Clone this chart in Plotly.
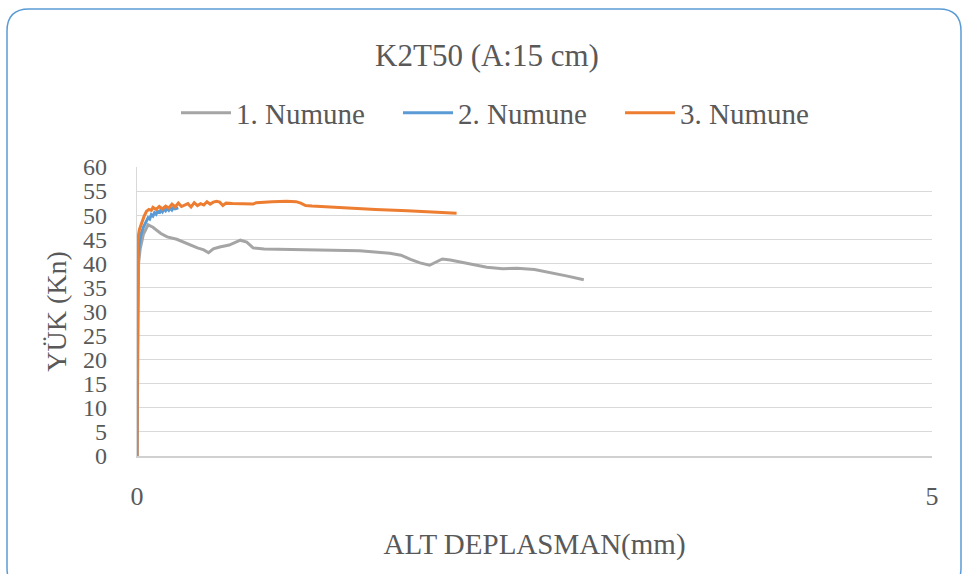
import plotly.graph_objects as go

# ---- data ----
s1_x = [0, 0.003, 0.01, 0.02, 0.04, 0.07, 0.1, 0.15, 0.19, 0.25, 0.32, 0.38, 0.42, 0.45, 0.48, 0.52,
        0.58, 0.62, 0.65, 0.69, 0.71, 0.73, 0.8, 1.0, 1.2, 1.4, 1.59, 1.66, 1.72, 1.78, 1.84, 1.88,
        1.92, 1.97, 2.03, 2.12, 2.2, 2.3, 2.39, 2.5, 2.6, 2.7, 2.81]
s1_y = [0, 20, 40, 43, 46, 48, 47.5, 46.2, 45.5, 45, 44, 43.2, 42.8, 42.2, 43, 43.4,
        43.8, 44.4, 44.8, 44.4, 43.8, 43.2, 43, 42.9, 42.8, 42.6, 42.1, 41.7, 40.8, 40.1, 39.6, 40.2,
        40.9, 40.7, 40.3, 39.7, 39.2, 38.9, 39, 38.7, 38.1, 37.4, 36.6]

s2_x = [0, 0.003, 0.006, 0.015, 0.025, 0.04, 0.05, 0.06, 0.07, 0.08, 0.09, 0.1, 0.11, 0.12, 0.13,
        0.14, 0.15, 0.16, 0.17, 0.18, 0.19, 0.2, 0.21, 0.22, 0.23, 0.24, 0.26]
s2_y = [0, 25, 41, 44, 46, 47.5, 48.3, 48.8, 49.5, 49.2, 50.1, 49.8, 50.5, 50.2, 50.9,
        50.4, 51.1, 50.7, 51.3, 50.9, 51.4, 51.0, 51.5, 51.1, 51.6, 51.3, 51.5]

s3_x = [0, 0.002, 0.005, 0.015, 0.03, 0.045, 0.06, 0.075, 0.09, 0.1, 0.12, 0.14, 0.16, 0.18, 0.2,
        0.22, 0.24, 0.26, 0.28, 0.3, 0.32, 0.34, 0.36, 0.38, 0.4, 0.42, 0.44, 0.46, 0.48, 0.5,
        0.52, 0.54, 0.56, 0.6, 0.65, 0.7, 0.73, 0.75, 0.78, 0.85, 0.94, 1.0, 1.03, 1.06, 1.1,
        1.3, 1.5, 1.7, 1.9, 2.01]
s3_y = [0, 30, 45, 47, 48.5, 49.8, 50.8, 51.2, 51.0, 51.6, 51.2, 51.8, 51.3, 51.9, 51.5,
        52.3, 51.7, 52.5, 51.8, 52.1, 52.4, 51.7, 52.6, 52.0, 52.4, 52.1, 52.8, 52.3, 52.7, 52.9,
        52.7, 52.0, 52.5, 52.4, 52.4, 52.3, 52.3, 52.6, 52.7, 52.8, 52.9, 52.8, 52.5, 52.0, 51.9,
        51.5, 51.2, 50.9, 50.6, 50.4]

names = ["1. Numune", "2. Numune", "3. Numune"]
colors = ["#A5A5A5", "#5B9BD5", "#ED7D31"]
y_ticks = [0, 5, 10, 15, 20, 25, 30, 35, 40, 45, 50, 55, 60]
x_ticks = [0, 5]

title_text = "K2T50 (A:15 cm)"
x_title = "ALT DEPLASMAN(mm)"
y_title = "YÜK (Kn)"

# ---- layout geometry ----
W, H = 966, 574
L, R, T, B = 137, 932, 167, 456
FONT = "Liberation Serif, Times New Roman, serif"
TXT = "#595959"

fig = go.Figure()
for xs, ys, n, c in zip([s1_x, s2_x, s3_x], [s1_y, s2_y, s3_y], names, colors):
    fig.add_trace(go.Scatter(x=xs, y=ys, mode="lines", name=n,
                             line=dict(color=c, width=3)))

def px2paper(px, py):
    return (px - L) / (R - L), (B - py) / (B - T)

# rounded border
x0p, y0p, x1p, y1p, rad = 7, 9, 961, 590, 22
rx = rad / (R - L)
ry = rad / (B - T)
ax0, ay0 = px2paper(x0p, y0p)
ax1, ay1 = px2paper(x1p, y1p)
path = (f"M {ax0+rx},{ay0} L {ax1-rx},{ay0} Q {ax1},{ay0} {ax1},{ay0-ry} "
        f"L {ax1},{ay1+ry} Q {ax1},{ay1} {ax1-rx},{ay1} "
        f"L {ax0+rx},{ay1} Q {ax0},{ay1} {ax0},{ay1+ry} "
        f"L {ax0},{ay0-ry} Q {ax0},{ay0} {ax0+rx},{ay0} Z")

lx, ly = px2paper(509, 113)

fig.update_layout(
    width=W, height=H,
    margin=dict(l=L, r=W - R, t=T, b=H - B, autoexpand=False),
    paper_bgcolor="white", plot_bgcolor="white",
    font=dict(family=FONT, color=TXT, size=24),
    title=dict(text=title_text, x=487 / W, xanchor="center", y=1 - 55 / H, yanchor="middle",
               yref="container", font=dict(size=31, color=TXT, family=FONT)),
    legend=dict(orientation="h", x=lx, xanchor="center", y=ly, yanchor="middle",
                font=dict(size=29, color=TXT, family=FONT), bgcolor="rgba(0,0,0,0)",
                itemwidth=50, entrywidth=157, tracegroupgap=0),
    shapes=[dict(type="path", path=path, xref="paper", yref="paper",
                 line=dict(color="#5B9BD5", width=1.5), fillcolor="rgba(0,0,0,0)", layer="below")],
    xaxis=dict(range=[0, 5], tickvals=x_ticks, showgrid=False, zeroline=False,
               showline=True, linecolor="#d0d0d0", linewidth=1.5,
               ticks="", ticklabelstandoff=16, tickfont=dict(size=26, color=TXT, family=FONT),
               title=dict(text=x_title, standoff=24, font=dict(size=29, color=TXT, family=FONT)),
               automargin=False),
    yaxis=dict(range=[0, 60], tickvals=y_ticks, showgrid=True, gridcolor="#d9d9d9", gridwidth=1.3,
               zeroline=False, showline=True, linecolor="#d9d9d9", linewidth=1.3,
               ticks="", ticklabelstandoff=24, tickfont=dict(size=24, color=TXT, family=FONT),
               title=dict(text=y_title, standoff=8, font=dict(size=28, color=TXT, family=FONT)),
               automargin=False),
)

fig.write_html("out.html")
